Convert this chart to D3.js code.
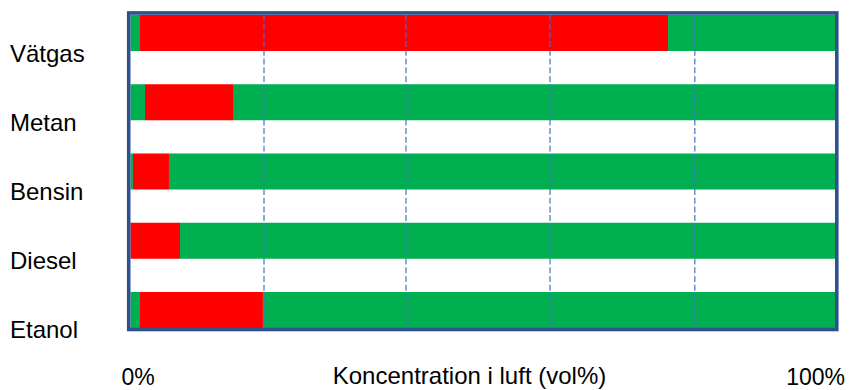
<!DOCTYPE html>
<html>
<head>
<meta charset="utf-8">
<script src="https://cdn.jsdelivr.net/npm/d3@7"></script>
<style>
  body { margin: 0; background: #fff; }
  svg text { font-family: "Liberation Sans", Arial, sans-serif; fill: #000; }
</style>
</head>
<body>
<div id="chart"></div>
<script>
// fuels and their flammable range (share of the axis, %)
const fuels = ['Vätgas', 'Metan', 'Bensin', 'Diesel', 'Etanol'];
const lowerLimit = [1.35, 2.06, 0.35, 0, 1.35];
const upperLimit = [76.3, 14.55, 5.46, 7.03, 18.8];
const gridValues = [18.95, 39.1, 59.55, 80.1];
const axisLabels = ['0%', 'Koncentration i luft (vol%)', '100%'];

const width = 849;
const height = 390;
const margin = {
  top: 15, right: 14, bottom: 62, left: 130.5,
};

const svg = d3.select('#chart').append('svg')
  .attr('width', width)
  .attr('height', height);

const x = d3.scaleLinear()
  .domain([0, 100])
  .range([margin.left, width - margin.right]);

const y = d3.scaleBand()
  .domain(fuels)
  .range([margin.top, height - margin.bottom])
  .paddingInner(0.48)
  .paddingOuter(0);

// each fuel = green (too lean) | red (burns) | green (too rich)
const segments = [];
fuels.forEach((f, i) => {
  segments.push({ fuel: f, from: 0, to: lowerLimit[i], color: '#00B050' });
  segments.push({ fuel: f, from: lowerLimit[i], to: upperLimit[i], color: '#FF0000' });
  segments.push({ fuel: f, from: upperLimit[i], to: 100, color: '#00B050' });
});

svg.append('g')
  .selectAll('rect')
  .data(segments.filter((d) => d.to > d.from))
  .join('rect')
  .attr('x', (d) => x(d.from))
  .attr('width', (d) => x(d.to) - x(d.from))
  .attr('y', (d) => y(d.fuel))
  .attr('height', y.bandwidth())
  .attr('fill', (d) => d.color);

// dashed gridlines sit on top of the bars
svg.append('g')
  .selectAll('line')
  .data(gridValues)
  .join('line')
  .attr('x1', (d) => x(d))
  .attr('x2', (d) => x(d))
  .attr('y1', margin.top)
  .attr('y2', height - margin.bottom)
  .attr('stroke', '#4472C4')
  .attr('stroke-opacity', 0.85)
  .attr('stroke-width', 1.4)
  .attr('stroke-dasharray', '6,2.7');

// frame
const [x0, x1] = x.range();
const [y0, y1] = y.range();
svg.append('rect')
  .attr('x', x0 - 3)
  .attr('y', y0 - 3.5)
  .attr('width', x1 - x0 + 5.5)
  .attr('height', y1 - y0 + 5.5)
  .attr('fill', 'none')
  .attr('stroke', '#B4C7E7')
  .attr('stroke-width', 1);
svg.append('rect')
  .attr('x', x0 - 1.8)
  .attr('y', y0 - 2)
  .attr('width', x1 - x0 + 3.6)
  .attr('height', y1 - y0 + 3.5)
  .attr('fill', 'none')
  .attr('stroke', '#2F528F')
  .attr('stroke-width', 3.6);

// fuel names
svg.append('g')
  .selectAll('text')
  .data(fuels)
  .join('text')
  .attr('x', 10)
  .attr('y', (d) => y(d) + y.bandwidth() / 2 + 28.5)
  .style('font-size', '24px')
  .text((d) => d);

// bottom labels
svg.append('text')
  .attr('x', 121.5)
  .attr('y', 385)
  .style('font-size', '23px')
  .text(axisLabels[0]);
svg.append('text')
  .attr('x', 469.5)
  .attr('y', 384)
  .attr('text-anchor', 'middle')
  .style('font-size', '24px')
  .text(axisLabels[1]);
svg.append('text')
  .attr('x', 845)
  .attr('y', 385)
  .attr('text-anchor', 'end')
  .style('font-size', '23px')
  .text(axisLabels[2]);
</script>
</body>
</html>
